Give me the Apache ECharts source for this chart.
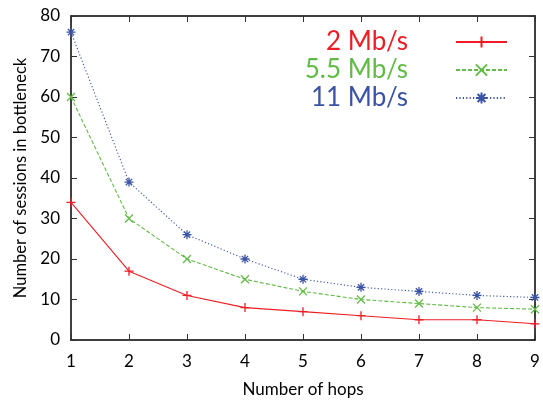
<!DOCTYPE html>
<html>
<head>
<meta charset="utf-8">
<script src="https://cdn.jsdelivr.net/npm/echarts@6/dist/echarts.min.js"></script>
<style>html,body{margin:0;padding:0;background:#fff}#c{width:543px;height:403px}</style>
</head>
<body>
<div id="c"></div>
<script>
const hops = [1, 2, 3, 4, 5, 6, 7, 8, 9];
const s2 = [34, 17, 11, 8, 7, 6, 5, 5, 4];
const s55 = [60, 30, 20, 15, 12, 10, 9, 8, 7.6];
const s11 = [76, 39, 26, 20, 15, 13, 12, 11, 10.5];
const names = ['2 Mb/s', '5.5 Mb/s', '11 Mb/s'];
const colors = ['#ee1d24', '#62bb46', '#3a53a4'];

const FONT = 'Lato';
const symPlus = 'path://M0,5L10,5M5,0L5,10';
const symX = 'path://M0,0L10,10M10,0L0,10';
const symStar = 'path://M0,5L10,5M5,0L5,10M1.5,1.5L8.5,8.5M8.5,1.5L1.5,8.5';

function mk(name, vals, color, type, sym, size) {
  return {
    name: name, type: 'line', data: hops.map((h, i) => [h, vals[i]]),
    symbol: sym, symbolSize: size, showAllSymbol: true,
    lineStyle: {color: color, width: 1.1, type: type},
    itemStyle: {color: 'none', borderColor: color, borderWidth: 1.3},
    emphasis: {disabled: true}, animation: false
  };
}
function leg(i, top) {
  return {
    data: [names[i]], right: 35, top: top, align: 'right', orient: 'vertical', padding: 0,
    itemWidth: 51, itemHeight: 14, selectedMode: false,
    textStyle: {fontFamily: FONT, fontSize: 26, color: colors[i], padding: [0, 43, 0, 0], lineHeight: 28}
  };
}
const axisLine = {show: true, onZero: false, lineStyle: {color: '#000', width: 1.5}};
const tickIn = {show: true, inside: true, length: 6, lineStyle: {color: '#333', width: 1}};
const lbl = {fontFamily: FONT, fontSize: 17, color: '#000'};
const chart = echarts.init(document.getElementById('c'));
chart.setOption({
  animation: false,
  grid: {left: 71, right: 8, top: 16, bottom: 60},
  legend: [leg(0, 28), leg(1, 56), leg(2, 84)],
  xAxis: [
    {type: 'value', min: 1, max: 9, interval: 1, axisLine: axisLine, axisTick: tickIn,
     splitLine: {show: false}, axisLabel: Object.assign({margin: 13}, lbl),
     name: 'Number of hops', nameLocation: 'middle', nameGap: 41,
     nameTextStyle: {fontFamily: FONT, fontSize: 17, color: '#000'}},
    {type: 'value', min: 1, max: 9, interval: 1, position: 'top', axisLine: axisLine, axisTick: tickIn,
     splitLine: {show: false}, axisLabel: {show: false}}
  ],
  yAxis: [
    {type: 'value', min: 0, max: 80, interval: 10, axisLine: axisLine, axisTick: tickIn,
     splitLine: {show: false}, axisLabel: Object.assign({margin: 11}, lbl),
     name: 'Number of sessions in bottleneck', nameLocation: 'middle', nameGap: 40,
     nameTextStyle: {fontFamily: FONT, fontSize: 16.5, color: '#000'}},
    {type: 'value', min: 0, max: 80, interval: 10, position: 'right', axisLine: axisLine, axisTick: tickIn,
     splitLine: {show: false}, axisLabel: {show: false}}
  ],
  series: [
    mk(names[0], s2, colors[0], 'solid', symPlus, 9),
    mk(names[1], s55, colors[1], [4, 2], symX, 8),
    mk(names[2], s11, colors[2], [1.2, 2.2], symStar, 9)
  ]
});
</script>
</body>
</html>
